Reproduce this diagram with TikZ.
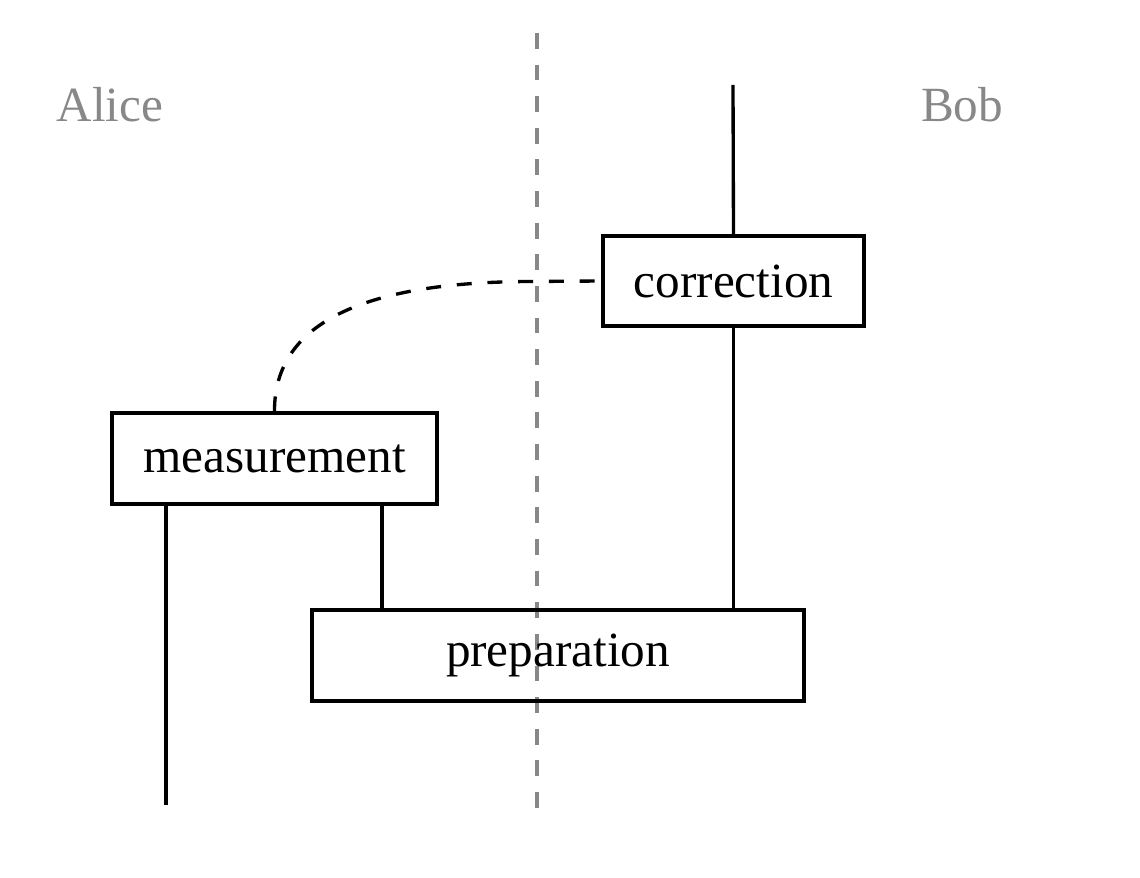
\documentclass[tikz,border=0pt]{standalone}
\usepackage{fontspec}
\setmainfont{Liberation Serif}
\begin{document}
\begin{tikzpicture}[x=0.02cm,y=-0.02cm,
  wire/.style={line width=1.9pt},
  boxst/.style={draw,line width=1.9pt,inner sep=0pt,font=\fontsize{28}{33}\selectfont},
  lbl/.style={font=\fontsize{28}{33}\selectfont}]
\useasboundingbox (0,0) rectangle (1140,878);
\definecolor{sep}{HTML}{888888}
\coordinate (st) at (537,33);
\coordinate (sb) at (537,812);
\draw[sep,line width=1.9pt,dash pattern=on 9pt off 9pt] (st) -- (sb);
\node[lbl,text=sep] (alice) at (110,105) {Alice};
\node[lbl,text=sep] (bob) at (962,105) {Bob};
\node[boxst,minimum width=261*0.02cm,minimum height=90*0.02cm] (corr) at (733.5,281) {correction};
\node[boxst,minimum width=325*0.02cm,minimum height=91*0.02cm] (meas) at (274.5,458.5) {measurement};
\node[boxst,minimum width=492*0.02cm,minimum height=91*0.02cm] (prep) at (558,655.5) {preparation};
\coordinate (btop) at (733,85);
\coordinate (aout) at (166,805);
\draw[wire] (btop) -- (corr.north);
\draw[wire] (corr.south) -- (corr.south |- prep.north);
\draw[wire] (meas.south -| aout) -- (aout);
\draw[wire] (meas.south -| 382,0) -- (prep.north -| 382,0);
\draw[wire,dash pattern=on 8.5pt off 9pt] (meas.north) .. controls (274,320) and (370,282) .. (530,281.5) -- (corr.west);
\end{tikzpicture}
\end{document}
